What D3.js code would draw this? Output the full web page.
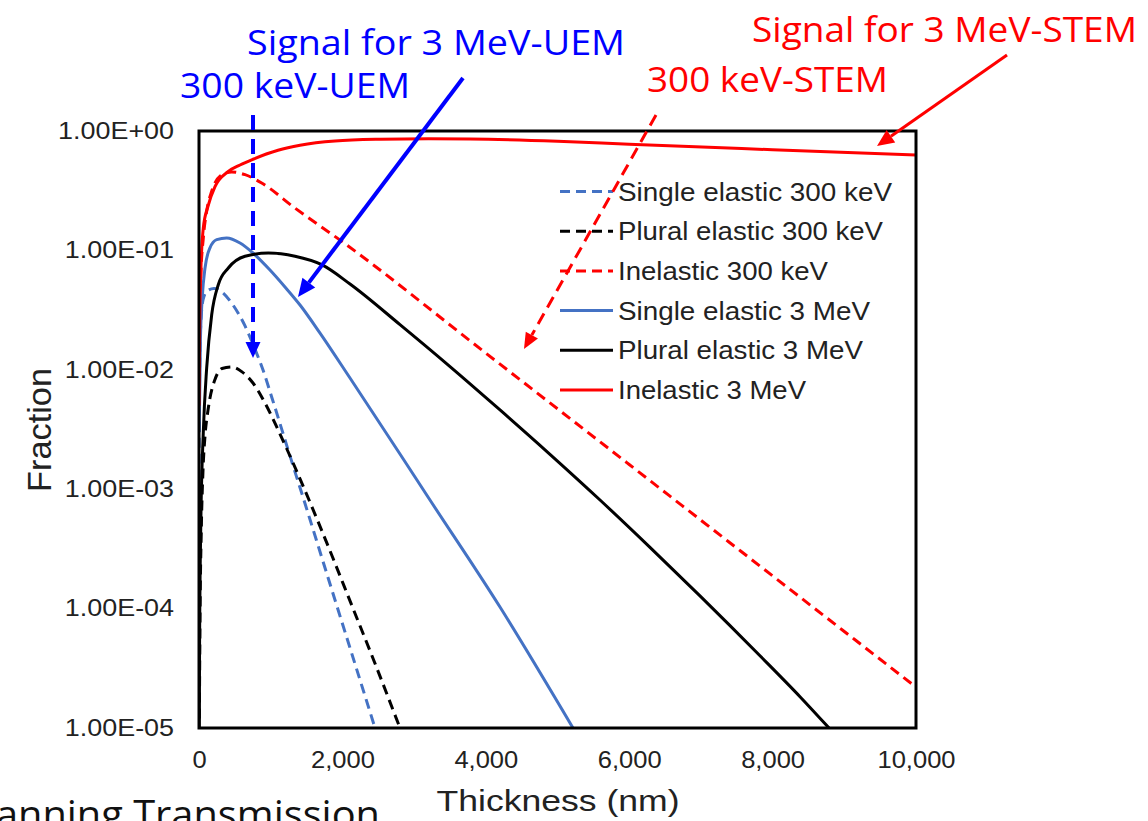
<!DOCTYPE html>
<html>
<head>
<meta charset="utf-8">
<script src="https://cdn.jsdelivr.net/npm/d3@7"></script>
<style>
body { margin: 0; background: #fff; }
svg { display: block; }
</style>
</head>
<body>
<svg width="1148" height="821"></svg>
<script>
// thickness (nm) and fraction for each curve
var single300T = [1, 5, 21, 56, 112, 209, 321, 474, 642, 781, 893, 1018, 1269, 1520, 1715, 1897, 2176, 2455];
var single300F = [0.0012, 0.0055, 0.0216, 0.0384, 0.0457, 0.048, 0.0448, 0.0349, 0.0233, 0.0149, 0.00996, 0.00581, 0.0019, 0.000632, 0.000265, 0.000118, 0.0000344, 0.00001];

var plural300T = [5, 15, 30, 56, 84, 126, 153, 223, 321, 460, 600, 753, 921, 1102, 1297, 1478, 1660, 1855, 2106, 2455, 2803];
var plural300F = [0.000012, 0.0001, 0.0004, 0.00145, 0.0028, 0.0046, 0.0058, 0.0083, 0.01026, 0.01055, 0.0096, 0.00775, 0.00527, 0.00315, 0.00174, 0.000977, 0.000536, 0.000277, 0.000116, 0.0000347, 0.00001];

var inel300T = [2, 10, 25, 60, 107, 177, 293, 456, 642, 874, 1339, 2000, 4000, 6000, 8000, 10000];
var inel300F = [0.005, 0.025, 0.06, 0.127, 0.213, 0.313, 0.418, 0.454, 0.431, 0.367, 0.226, 0.118, 0.0138, 0.00161, 0.000188, 0.000022];

var single3T = [3, 20, 45, 84, 153, 247, 386, 572, 753, 990, 1199, 1409, 1688, 2106, 2803, 3194, 4198, 5216];
var single3F = [0.003, 0.018, 0.04, 0.0712, 0.105, 0.123, 0.127, 0.1153, 0.0951, 0.0685, 0.0494, 0.0349, 0.0203, 0.00853, 0.00197, 0.00086, 0.000103, 0.00001];

var plural3T = [4, 8, 25, 60, 107, 177, 269, 409, 642, 967, 1339, 1711, 2106, 2803, 3501, 4198, 4895, 5593, 6290, 6987, 7824, 8382, 8787];
var plural3F = [0.00001, 0.00005, 0.0005, 0.003, 0.01035, 0.0289, 0.0516, 0.0712, 0.0893, 0.0951, 0.0893, 0.0759, 0.0523, 0.0239, 0.01064, 0.00461, 0.00196, 0.000812, 0.000326, 0.000128, 0.0000403, 0.0000183, 0.00001];

var inel3T = [2, 10, 25, 60, 126, 223, 404, 572, 753, 1102, 1409, 1897, 2524, 3200, 3780, 5000, 6000, 8000, 10000];
var inel3F = [0.005, 0.025, 0.065, 0.154, 0.235, 0.342, 0.456, 0.519, 0.58, 0.69, 0.76, 0.825, 0.853, 0.862, 0.858, 0.82, 0.774, 0.697, 0.63];

var seriesNames = ["Single elastic 300 keV", "Plural elastic 300 keV", "Inelastic 300 keV",
                   "Single elastic 3 MeV", "Plural elastic 3 MeV", "Inelastic 3 MeV"];
var xTicks = [0, 2000, 4000, 6000, 8000, 10000];
var yTicks = [1e-5, 1e-4, 1e-3, 1e-2, 1e-1, 1];

var series = [
  {name: seriesNames[0], t: single300T, f: single300F, color: "#4472C4", dash: "10,6"},
  {name: seriesNames[1], t: plural300T, f: plural300F, color: "#000000", dash: "10,6"},
  {name: seriesNames[2], t: inel300T, f: inel300F, color: "#FF0000", dash: "10,6"},
  {name: seriesNames[3], t: single3T, f: single3F, color: "#4472C4", dash: null},
  {name: seriesNames[4], t: plural3T, f: plural3F, color: "#000000", dash: null},
  {name: seriesNames[5], t: inel3T, f: inel3F, color: "#FF0000", dash: null}
];

var svg = d3.select("svg");
var plotL = 199, plotR = 916, plotT = 131, plotB = 728;

var x = d3.scaleLinear().domain([0, 10000]).range([plotL, plotR]);
var y = d3.scaleLog().domain([1e-5, 1]).range([plotB, plotT]);

var axisFont = "'Liberation Sans', Arial, sans-serif";
var slideFont = "'Open Sans', 'Noto Sans', sans-serif";

svg.append("defs").append("clipPath").attr("id", "plot")
  .append("rect").attr("x", plotL).attr("y", plotT)
  .attr("width", plotR - plotL).attr("height", plotB - plotT);

function sciLabel(d) {
  var e = Math.round(Math.log10(d));
  return "1.00E" + (e < 0 ? "-" : "+") + String(Math.abs(e)).padStart(2, "0");
}

// y axis
var sy = 1.17;
var gy = svg.append("g").attr("transform", "translate(" + plotL + ",0)")
  .call(d3.axisLeft(y).tickValues(yTicks).tickFormat(sciLabel).tickSize(0).tickPadding(25));
gy.select(".domain").remove();
gy.selectAll("text")
  .attr("x", -25 / sy)
  .attr("transform", "scale(" + sy + ",1)")
  .style("font-family", axisFont).style("font-size", "23px").attr("fill", "#222");

// x axis
var sx = 1.11;
var gx = svg.append("g").attr("transform", "translate(0," + plotB + ")")
  .call(d3.axisBottom(x).tickValues(xTicks).tickFormat(d3.format(",")).tickSize(0).tickPadding(24));
gx.select(".domain").remove();
gx.selectAll("text")
  .attr("transform", "scale(" + sx + ",1)")
  .style("font-family", axisFont).style("font-size", "23px").attr("fill", "#222");

// curves
var line = d3.line()
  .x(function(d) { return x(d[0]); })
  .y(function(d) { return y(d[1]); })
  .curve(d3.curveMonotoneX);

var curves = svg.append("g").attr("clip-path", "url(#plot)");
series.forEach(function(s) {
  var pts = s.t.map(function(t, i) { return [t, s.f[i]]; });
  curves.append("path")
    .datum(pts)
    .attr("d", line)
    .attr("fill", "none")
    .attr("stroke", s.color)
    .attr("stroke-width", 3)
    .attr("stroke-dasharray", s.dash);
});

// frame
svg.append("rect")
  .attr("x", plotL).attr("y", plotT)
  .attr("width", plotR - plotL).attr("height", plotB - plotT)
  .attr("fill", "none").attr("stroke", "#000").attr("stroke-width", 3);

// legend
var legend = svg.append("g").attr("transform", "translate(560,191.5)");
var legendW = [274, 265, 210, 252, 245, 188];
series.forEach(function(s, i) {
  var row = legend.append("g").attr("transform", "translate(0," + (i * 39.7) + ")");
  row.append("line")
    .attr("x1", 0).attr("x2", 53).attr("y1", 0).attr("y2", 0)
    .attr("stroke", s.color).attr("stroke-width", 3)
    .attr("stroke-dasharray", s.dash);
  row.append("text")
    .attr("x", 58).attr("y", 9)
    .attr("textLength", legendW[i]).attr("lengthAdjust", "spacingAndGlyphs")
    .style("font-family", axisFont).style("font-size", "25px")
    .attr("fill", "#222")
    .text(s.name);
});

// axis titles
svg.append("text")
  .attr("x", 558).attr("y", 811)
  .attr("text-anchor", "middle")
  .attr("textLength", 243).attr("lengthAdjust", "spacingAndGlyphs")
  .style("font-family", axisFont).style("font-size", "30px").attr("fill", "#222")
  .text("Thickness (nm)");

svg.append("text")
  .attr("transform", "translate(51,430) rotate(-90)")
  .attr("text-anchor", "middle")
  .attr("textLength", 124).attr("lengthAdjust", "spacingAndGlyphs")
  .style("font-family", axisFont).style("font-size", "33px").attr("fill", "#222")
  .text("Fraction");

// annotations
function note(x0, y0, str, color, w) {
  svg.append("text")
    .attr("x", x0).attr("y", y0)
    .attr("textLength", w).attr("lengthAdjust", "spacingAndGlyphs")
    .style("font-family", slideFont).style("font-size", "35px")
    .attr("fill", color)
    .text(str);
}
note(247, 55, "Signal for 3 MeV-UEM", "#0000FF", 378);
note(180, 98, "300 keV-UEM", "#0000FF", 230);
note(647, 92, "300 keV-STEM", "#FF0000", 241);
note(752, 42, "Signal for 3 MeV-STEM", "#FF0000", 385);

function arrow(x1, y1, x2, y2, color, w, dash, len, half) {
  var a = Math.atan2(y2 - y1, x2 - x1);
  var bx = x2 - len * Math.cos(a), by = y2 - len * Math.sin(a);
  svg.append("line")
    .attr("x1", x1).attr("y1", y1).attr("x2", bx).attr("y2", by)
    .attr("stroke", color).attr("stroke-width", w)
    .attr("stroke-dasharray", dash);
  var px = -Math.sin(a) * half, py = Math.cos(a) * half;
  svg.append("polygon")
    .attr("points", [[x2, y2], [bx + px, by + py], [bx - px, by - py]].map(function(p) { return p.join(","); }).join(" "))
    .attr("fill", color);
}
arrow(253, 115, 253, 358, "#0000FF", 4, "15,9", 16, 7.5);
arrow(463, 78, 298, 297, "#0000FF", 4, null, 18, 8);
arrow(1007, 55, 877, 146, "#FF0000", 3, null, 17, 7.5);
arrow(656, 115, 524, 349, "#FF0000", 3, "12,7", 16, 7);

// partial slide text at the bottom
svg.append("text")
  .attr("x", 380).attr("y", 828)
  .attr("text-anchor", "end")
  .attr("textLength", 425).attr("lengthAdjust", "spacingAndGlyphs")
  .style("font-family", slideFont).style("font-size", "38px")
  .attr("fill", "#111")
  .text("Scanning Transmission");
</script>
</body>
</html>
